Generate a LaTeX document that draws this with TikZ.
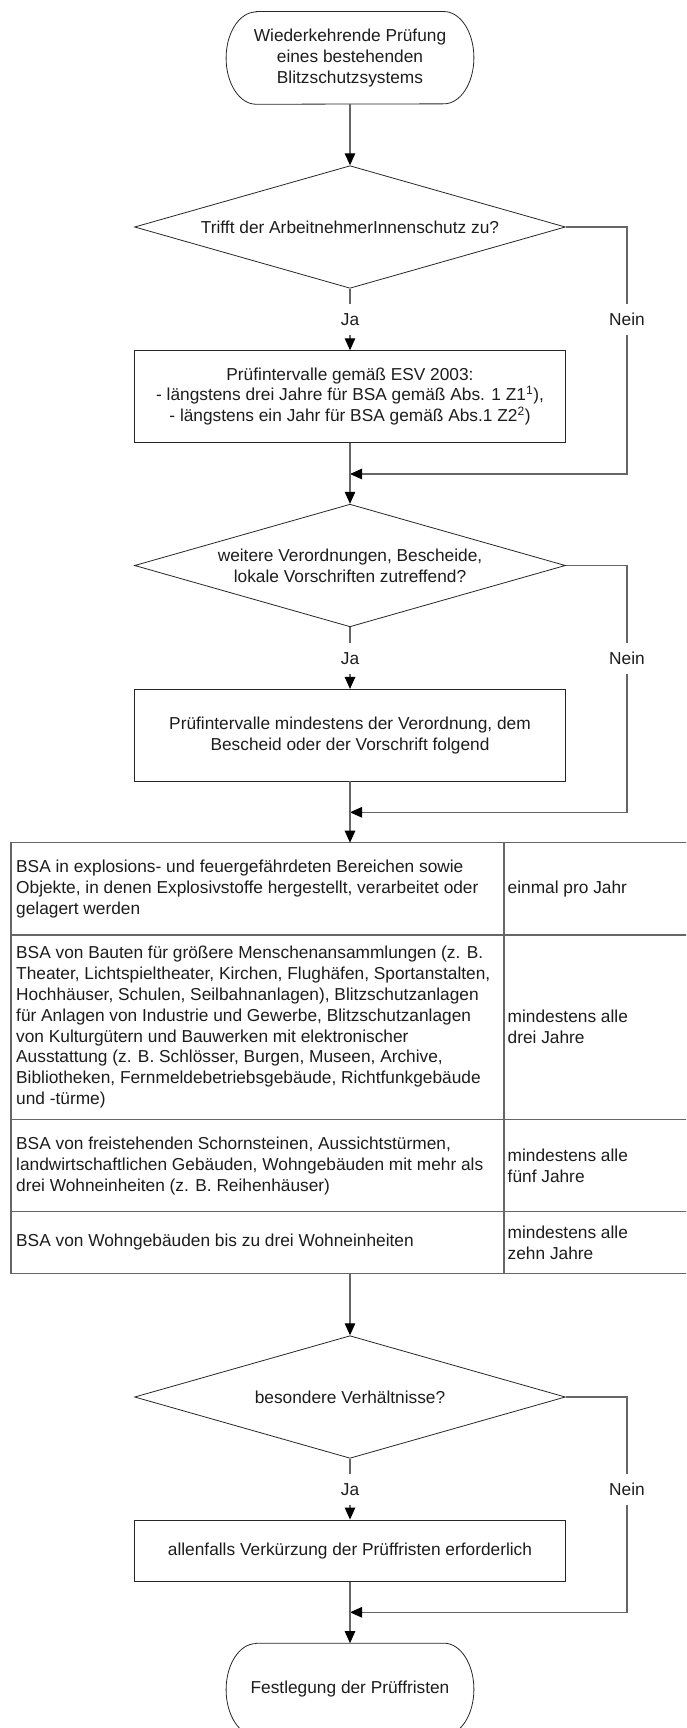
\documentclass[tikz,border=0pt]{standalone}
\usepackage{fontspec}
\setmainfont{Liberation Sans}
\usetikzlibrary{arrows.meta,shapes.geometric}
\definecolor{txt}{HTML}{1C1C1C}
\definecolor{shp}{HTML}{262626}
\definecolor{con}{HTML}{666666}
\begin{document}
\begin{tikzpicture}[x=1pt,y=-1pt,
  every node/.style={font=\fontsize{17.3}{20.8}\selectfont, text=txt},
  termbox/.style={draw=none, minimum width=247.4pt, minimum height=92.3pt, inner sep=0pt, align=center},
  shapeline/.style={draw=shp, line width=0.8pt},
  flowbox/.style={draw=shp, line width=0.8pt, minimum width=430.8pt, inner sep=0pt, align=center},
  decision/.style={diamond, draw=shp, line width=0.8pt, aspect=3.5, minimum width=430.8pt, minimum height=122.6pt, inner sep=0pt, align=center},
  lbl/.style={inner sep=0pt, minimum height=30pt},
  conn/.style={draw=con, line width=1.1pt},
  arr/.style={conn, -{Triangle[length=12pt,width=10.5pt,color=black]}},
  tabline/.style={draw=con, line width=1.3pt},
  lcell/.style={anchor=west, align=left, inner sep=0pt},
]
\useasboundingbox (0,0) rectangle (686,1728);
\clip (0,0) rectangle (686,1728);

% start terminal
\node[termbox] (start) at (350,57.9) {Wiederkehrende Prüfung\\eines bestehenden\\Blitzschutzsystems};
\draw[shapeline] ([xshift=30pt]start.north west) -- ([xshift=-30pt]start.north east)
  arc[start angle=90,end angle=-90,x radius=30pt,y radius=46.15pt]
  -- ([xshift=30pt]start.south west)
  arc[start angle=270,end angle=90,x radius=30pt,y radius=46.15pt] -- cycle;

% decision 1
\node[decision] (d1) at (350,227) {Trifft der ArbeitnehmerInnenschutz zu?};
\node[lbl] (ja1) at (350,319.3) {Ja};
\node[lbl] (nein1) at (627,319.3) {Nein};
\node[flowbox, minimum height=91.6pt] (box1) at (350,396.5) {Prüfintervalle gemäß ESV 2003:\\- längstens drei Jahre für BSA gemäß Abs. 1 Z1\textsuperscript{1}),\\- längstens ein Jahr für BSA gemäß Abs.1 Z2\textsuperscript{2})};
\coordinate (m1) at (350,474);

% decision 2
\node[decision] (d2) at (350,565.5) {weitere Verordnungen, Bescheide,\\lokale Vorschriften zutreffend?};
\node[lbl] (ja2) at (350,658.3) {Ja};
\node[lbl] (nein2) at (627,658.3) {Nein};
\node[flowbox, minimum height=91.7pt] (box2) at (350,735.2) {Prüfintervalle mindestens der Verordnung, dem\\Bescheid oder der Vorschrift folgend};
\coordinate (m2) at (350,812.3);

% table
\node[draw=none, minimum width=720pt, minimum height=430.6pt, inner sep=0pt, anchor=north west] (tab) at (10.9,842.7) {};
\draw[tabline] (tab.north east) -- (tab.north west) -- (tab.south west) -- (tab.south east);
\draw[tabline] (10.9,935) -- (720,935);
\draw[tabline] (10.9,1119.3) -- (720,1119.3);
\draw[tabline] (10.9,1211.7) -- (720,1211.7);
\draw[tabline] (504,842.7) -- (504,1273.3);

\node[lcell] (r1l) at (16,888.9) {BSA in explosions- und feuergefährdeten Bereichen sowie\\Objekte, in denen Explosivstoffe hergestellt, verarbeitet oder\\gelagert werden};
\node[lcell] (r1r) at (507.5,888.9) {einmal pro Jahr};
\node[lcell] (r2l) at (16,1027.2) {BSA von Bauten für größere Menschenansammlungen (z. B.\\Theater, Lichtspieltheater, Kirchen, Flughäfen, Sportanstalten,\\Hochhäuser, Schulen, Seilbahnanlagen), Blitzschutzanlagen\\für Anlagen von Industrie und Gewerbe, Blitzschutzanlagen\\von Kulturgütern und Bauwerken mit elektronischer\\Ausstattung (z. B. Schlösser, Burgen, Museen, Archive,\\Bibliotheken, Fernmeldebetriebsgebäude, Richtfunkgebäude\\und -türme)};
\node[lcell] (r2r) at (507.5,1027.2) {mindestens alle\\drei Jahre};
\node[lcell] (r3l) at (16,1166) {BSA von freistehenden Schornsteinen, Aussichtstürmen,\\landwirtschaftlichen Gebäuden, Wohngebäuden mit mehr als\\drei Wohneinheiten (z. B. Reihenhäuser)};
\node[lcell] (r3r) at (507.5,1166) {mindestens alle\\fünf Jahre};
\node[lcell] (r4l) at (16,1242.5) {BSA von Wohngebäuden bis zu drei Wohneinheiten};
\node[lcell] (r4r) at (507.5,1242.8) {mindestens alle\\zehn Jahre};

% decision 3
\node[decision] (d3) at (350,1397) {besondere Verhältnisse?};
\node[lbl] (ja3) at (350,1489.3) {Ja};
\node[lbl] (nein3) at (627,1489.3) {Nein};
\node[flowbox, minimum height=61.7pt] (box3) at (350,1550.8) {allenfalls Verkürzung der Prüffristen erforderlich};
\coordinate (m3) at (350,1612.3);

% end terminal
\node[termbox] (end) at (350,1689.5) {Festlegung der Prüffristen};
\draw[shapeline] ([xshift=30pt]end.north west) -- ([xshift=-30pt]end.north east)
  arc[start angle=90,end angle=-90,x radius=30pt,y radius=46.15pt]
  -- ([xshift=30pt]end.south west)
  arc[start angle=270,end angle=90,x radius=30pt,y radius=46.15pt] -- cycle;

% connectors
\draw[arr] (start) -- (d1);
\draw[conn] (d1.south) -- (ja1);
\draw[arr] (ja1) -- (box1);
\draw[conn] (d1.east) -| (nein1);
\draw[arr] (nein1) |- (m1);
\draw[arr] (box1) -- (d2);

\draw[conn] (d2.south) -- (ja2);
\draw[arr] (ja2) -- (box2);
\draw[conn] (d2.east) -| (nein2);
\draw[arr] (nein2) |- (m2);
\draw[arr] (box2.south) -- (box2.south |- tab.north);

\draw[arr] (d3.north |- tab.south) -- (d3.north);
\draw[conn] (d3.south) -- (ja3);
\draw[arr] (ja3) -- (box3);
\draw[conn] (d3.east) -| (nein3);
\draw[arr] (nein3) |- (m3);
\draw[arr] (box3) -- (end.north);
\end{tikzpicture}
\end{document}
